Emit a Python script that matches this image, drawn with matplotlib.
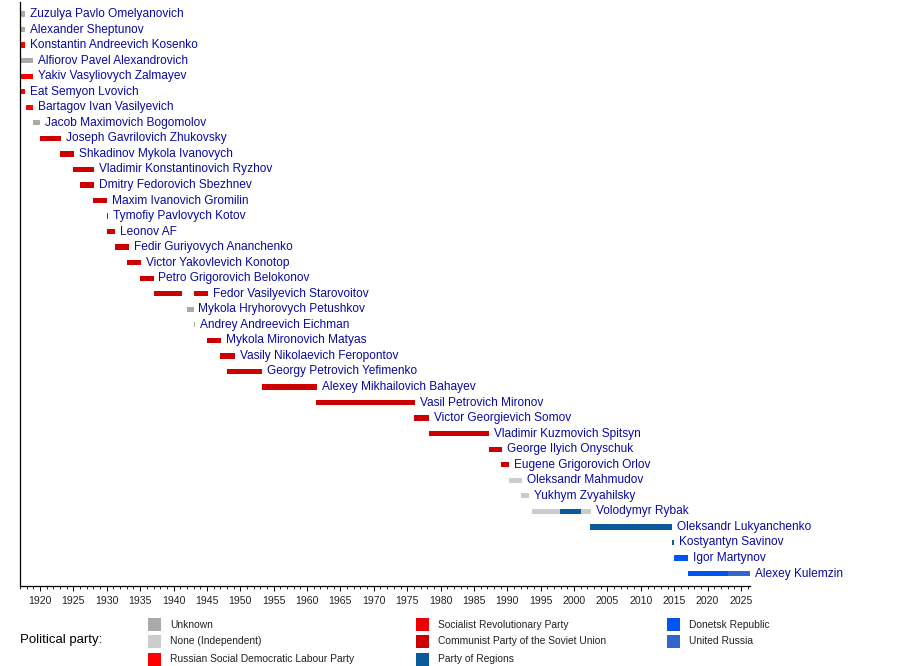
import matplotlib.pyplot as plt
from matplotlib.patches import Rectangle
from matplotlib.ticker import MultipleLocator

plt.rcParams['font.family'] = ['Liberation Sans', 'DejaVu Sans']

# Office holders, top to bottom
names = [
    "Zuzulya Pavlo Omelyanovich", "Alexander Sheptunov", "Konstantin Andreevich Kosenko",
    "Alfiorov Pavel Alexandrovich", "Yakiv Vasyliovych Zalmayev", "Eat Semyon Lvovich",
    "Bartagov Ivan Vasilyevich", "Jacob Maximovich Bogomolov", "Joseph Gavrilovich Zhukovsky",
    "Shkadinov Mykola Ivanovych", "Vladimir Konstantinovich Ryzhov", "Dmitry Fedorovich Sbezhnev",
    "Maxim Ivanovich Gromilin", "Tymofiy Pavlovych Kotov", "Leonov AF",
    "Fedir Guriyovych Ananchenko", "Victor Yakovlevich Konotop", "Petro Grigorovich Belokonov",
    "Fedor Vasilyevich Starovoitov", "Mykola Hryhorovych Petushkov", "Andrey Andreevich Eichman",
    "Mykola Mironovich Matyas", "Vasily Nikolaevich Feropontov", "Georgy Petrovich Yefimenko",
    "Alexey Mikhailovich Bahayev", "Vasil Petrovich Mironov", "Victor Georgievich Somov",
    "Vladimir Kuzmovich Spitsyn", "George Ilyich Onyschuk", "Eugene Grigorovich Orlov",
    "Oleksandr Mahmudov", "Yukhym Zvyahilsky", "Volodymyr Rybak",
    "Oleksandr Lukyanchenko", "Kostyantyn Savinov", "Igor Martynov", "Alexey Kulemzin",
]

# Terms in office: row index, start year, end year, party
seg_row = [0, 1, 2, 3, 4, 5, 6, 7, 8, 9, 10, 11, 12, 13, 14, 15, 16, 17, 18, 18,
           19, 20, 21, 22, 23, 24, 25, 26, 27, 28, 29, 30, 31, 32, 32, 32,
           33, 34, 35, 36, 36]
seg_start = [1917.0, 1917.0, 1917.0, 1917.0, 1917.0, 1917.0, 1917.9, 1919.0, 1920.0,
             1923.0, 1925.0, 1926.0, 1928.0, 1930.0, 1930.0, 1931.3, 1933.0, 1935.0,
             1937.0, 1943.0, 1942.0, 1943.0, 1945.0, 1947.0, 1948.0, 1953.3, 1961.3,
             1976.0, 1978.2, 1987.2, 1989.0, 1990.2, 1992.0, 1993.7, 1997.9, 2001.0,
             2002.4, 2014.7, 2015.0, 2017.0, 2023.0]
seg_end = [1917.8, 1917.8, 1917.8, 1919.0, 1919.0, 1917.8, 1919.0, 1920.0, 1923.1,
           1925.1, 1928.1, 1928.1, 1930.1, 1930.2, 1931.2, 1933.3, 1935.1, 1937.0,
           1941.2, 1945.2, 1943.0, 1943.17, 1947.1, 1949.2, 1953.3, 1961.5, 1976.2,
           1978.3, 1987.3, 1989.2, 1990.2, 1992.2, 1993.2, 1997.9, 2001.0, 2002.5,
           2014.7, 2015.0, 2017.1, 2023.0, 2026.35]
seg_party = ["unk", "unk", "rsdlp", "unk", "rsdlp", "rsdlp", "rsdlp", "unk", "cpsu",
             "cpsu", "cpsu", "cpsu", "cpsu", "cpsu", "cpsu", "cpsu", "cpsu", "cpsu",
             "cpsu", "cpsu", "unk", "unk", "cpsu", "cpsu", "cpsu", "cpsu", "cpsu",
             "cpsu", "cpsu", "cpsu", "cpsu", "ind", "ind", "ind", "pr", "ind",
             "pr", "pr", "dr", "dr", "ur"]

party_keys = ["unk", "ind", "rsdlp", "sr", "cpsu", "pr", "dr", "ur"]
party_labels = ["Unknown", "None (Independent)", "Russian Social Democratic Labour Party",
                "Socialist Revolutionary Party", "Communist Party of the Soviet Union",
                "Party of Regions", "Donetsk Republic", "United Russia"]
party_colors = ["#aaaaaa", "#cccccc", "#ff0000", "#ee0000", "#cc0000",
                "#0b5a9a", "#0055ee", "#3366cc"]
color_of = dict(zip(party_keys, party_colors))

W, H = 900, 666
fig = plt.figure(figsize=(W / 100, H / 100), dpi=100, facecolor='white')
ax = fig.add_axes([20 / W, 1 - 586 / H, 730 / W, 584 / H])

for r, s, e, p in zip(seg_row, seg_start, seg_end, seg_party):
    ax.barh(r, e - s, left=s, height=0.34, color=color_of[p], linewidth=0)

# labels follow the last term of each row
last_end = {}
for r, e in zip(seg_row, seg_end):
    last_end[r] = max(last_end.get(r, 0), e)
for i, n in enumerate(names):
    ax.annotate(n, (last_end[i], i), xytext=(3.5, 0), textcoords='offset points',
                va='center', ha='left', fontsize=8.6, color='#0a0aa0',
                annotation_clip=False)

ax.set_xlim(1917, 2026.35)
ax.set_ylim(36.8, -0.77)
ax.xaxis.set_minor_locator(MultipleLocator(1))
ax.set_xticks(range(1920, 2026, 5))
ax.tick_params(axis='x', which='major', length=3.5, width=0.7, labelsize=7.6,
               labelcolor='#222222', pad=4)
ax.tick_params(axis='x', which='minor', length=2.5, width=0.6)
ax.set_yticks([])
for side in ['top', 'right']:
    ax.spines[side].set_visible(False)
for side in ['left', 'bottom']:
    ax.spines[side].set_linewidth(0.9)
    ax.spines[side].set_color('black')

# legend
fig.text(20 / W, 1 - 640 / H, "Political party:", fontsize=9.5, va='center', ha='left')
col_x = [148, 416, 667]
row_y = [624.5, 641.5, 659]
for k, (lab, col) in enumerate(zip(party_labels, party_colors)):
    cx = col_x[k // 3]
    cy = row_y[k % 3]
    fig.patches.append(Rectangle((cx / W, 1 - (cy + 6.5) / H), 13 / W, 13 / H,
                                 transform=fig.transFigure, facecolor=col,
                                 edgecolor='none'))
    fig.text((cx + 22) / W, 1 - cy / H, lab, fontsize=7.4, va='center', ha='left',
             color='#222222')

fig.savefig('out.png', dpi=100, facecolor='white')
